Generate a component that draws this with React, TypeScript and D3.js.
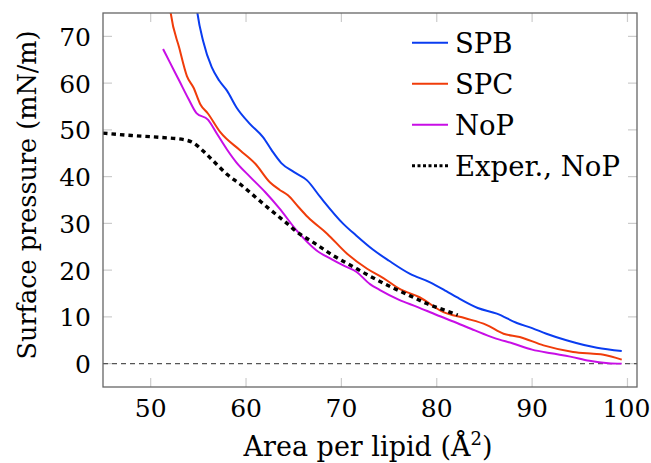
import React from "react";
import * as d3 from "d3";

// area per lipid (Å^2) / surface pressure (mN/m)
const spbX = [54.6, 54.9, 55.5, 56.4, 57.2, 58.0, 59.0, 60.4, 61.8, 62.7, 63.7, 65.0, 66.4, 67.8, 70.2, 71.5, 73.3, 75.0, 77.2, 79.3, 81.0, 82.1, 84.3, 86.3, 88.4, 90.0, 91.5, 93.6, 96.8, 99.4];
const spbY = [80, 75, 69, 63.4, 60.5, 58.4, 54.8, 51.3, 48.4, 45.6, 42.9, 41.0, 39.2, 35.6, 29.9, 27.5, 24.4, 22.0, 19.2, 17.4, 15.5, 14.2, 11.9, 10.7, 8.7, 7.6, 6.4, 5.0, 3.4, 2.7];

const spcX = [51.8, 52.1, 53.0, 53.8, 54.5, 55.2, 56.0, 57.3, 59.4, 61.0, 62.5, 63.5, 64.4, 65.5, 66.5, 68.5, 70.6, 72.7, 74.4, 76.1, 78.2, 80.7, 83.0, 85.2, 87.0, 88.7, 91.2, 94.3, 96.4, 97.5, 99.4];
const spcY = [80, 75, 67.5, 61.5, 59.0, 55.5, 53.5, 49.5, 45.6, 42.7, 38.8, 37.2, 36.0, 33.5, 31.3, 27.8, 23.5, 20.3, 18.3, 16.0, 14.2, 11.0, 9.7, 8.3, 6.4, 5.7, 3.9, 2.5, 2.1, 1.9, 0.85];

const nopX = [51.3, 52.0, 53.0, 54.0, 54.8, 56.0, 57.0, 58.0, 59.0, 60.4, 62.0, 63.5, 65.3, 67.4, 69.0, 70.2, 71.6, 73.0, 74.0, 76.0, 78.0, 80.0, 82.0, 84.0, 86.0, 88.0, 90.0, 92.0, 94.0, 96.0, 98.0, 99.4];
const nopY = [67.3, 64.5, 60.5, 56.5, 53.6, 52.2, 49.0, 45.8, 43.0, 40.0, 36.7, 33.2, 28.5, 24.2, 22.3, 21.0, 19.6, 17.0, 15.8, 13.7, 12.1, 10.4, 8.8, 7.1, 5.5, 4.3, 3.0, 2.2, 1.5, 0.6, 0.1, 0.0];

const expX = [45, 48, 51, 53.5, 54.5, 55.5, 56.5, 58, 59.5, 61, 62.5, 64, 65.5, 67, 69, 71, 73, 75, 77, 79, 81, 82.2];
const expY = [49.3, 48.8, 48.4, 47.9, 47.2, 45.5, 43.5, 40.5, 38.2, 35.6, 33.0, 30.5, 27.9, 26.0, 23.3, 21.0, 18.7, 16.6, 14.7, 12.8, 11.3, 10.4];

const xTicks = [50, 60, 70, 80, 90, 100];
const yTicks = [0, 10, 20, 30, 40, 50, 60, 70];

const series = [
  { name: "SPB", xs: spbX, ys: spbY, color: "#0a3cf0", dash: "" },
  { name: "SPC", xs: spcX, ys: spcY, color: "#f03c0a", dash: "" },
  { name: "NoP", xs: nopX, ys: nopY, color: "#c80ee6", dash: "" },
  { name: "Exper., NoP", xs: expX, ys: expY, color: "#000000", dash: "4.5,4" },
];

const W = 651, H = 463;
const left = 103, right = 637, top = 13, bottom = 387;
const txt = { fontFamily: "DejaVu Serif" };

export default function App() {
  const x = d3.scaleLinear().domain([45, 101]).range([left, right]);
  const y = d3.scaleLinear().domain([-5, 75]).range([bottom, top]);

  const line = d3
    .line<[number, number]>()
    .x(d => x(d[0]))
    .y(d => y(d[1]))
    .curve(d3.curveMonotoneX);

  return (
    <svg width={W} height={H} style={{ position: "absolute", left: 0, top: 0, background: "#fff" }}>
      <defs>
        <clipPath id="plot">
          <rect x={left} y={top} width={right - left} height={bottom - top} />
        </clipPath>
      </defs>

      {/* inner ticks on all sides */}
      <g stroke="#cccccc" strokeWidth={1.2}>
        {xTicks.map(t => (
          <g key={"xt" + t}>
            <line x1={x(t)} x2={x(t)} y1={bottom} y2={bottom - 9} />
            <line x1={x(t)} x2={x(t)} y1={top} y2={top + 9} />
          </g>
        ))}
        {yTicks.map(t => (
          <g key={"yt" + t}>
            <line x1={left} x2={left + 9} y1={y(t)} y2={y(t)} />
            <line x1={right} x2={right - 9} y1={y(t)} y2={y(t)} />
          </g>
        ))}
      </g>

      <line x1={left} x2={right} y1={y(0)} y2={y(0)} stroke="#555" strokeWidth={1.3} strokeDasharray="5,4" />

      <g clipPath="url(#plot)" fill="none">
        {series.map(s => (
          <path
            key={s.name}
            d={line(s.xs.map((v, i) => [v, s.ys[i]] as [number, number])) || ""}
            stroke={s.color}
            strokeWidth={s.dash ? 3.4 : 2}
            strokeDasharray={s.dash || undefined}
          />
        ))}
      </g>

      <rect x={left} y={top} width={right - left} height={bottom - top} fill="none" stroke="#666" strokeWidth={1.3} />

      <g fontSize={25} fill="#000">
        {xTicks.map(t => (
          <text key={"xl" + t} style={txt} x={t === 100 ? x(t) - 1 : x(t)} y={417} textAnchor="middle">{t}</text>
        ))}
        {yTicks.map(t => (
          <text key={"yl" + t} style={txt} x={91} y={y(t) + 9.5} textAnchor="end">{t}</text>
        ))}
      </g>
      <text style={txt} fontSize={27} x={(left + right) / 2 - 2} y={456} textAnchor="middle">
        Area per lipid (Å<tspan dy={-11} fontSize={18}>2</tspan><tspan dy={11}>)</tspan>
      </text>
      <text style={txt} fontSize={25.5} transform={`translate(36, 195) rotate(-90)`} textAnchor="middle">
        Surface pressure (mN/m)
      </text>

      <g fontSize={27.5}>
        {series.map((s, i) => (
          <g key={"lg" + s.name} transform={`translate(0, ${42.7 + i * 41})`}>
            <line
              x1={412}
              x2={448}
              y1={0}
              y2={0}
              stroke={s.color}
              strokeWidth={s.dash ? 3 : 2}
              strokeDasharray={s.dash ? "3,2.5" : undefined}
            />
            <text style={txt} x={455} y={10}>{s.name}</text>
          </g>
        ))}
      </g>
    </svg>
  );
}
